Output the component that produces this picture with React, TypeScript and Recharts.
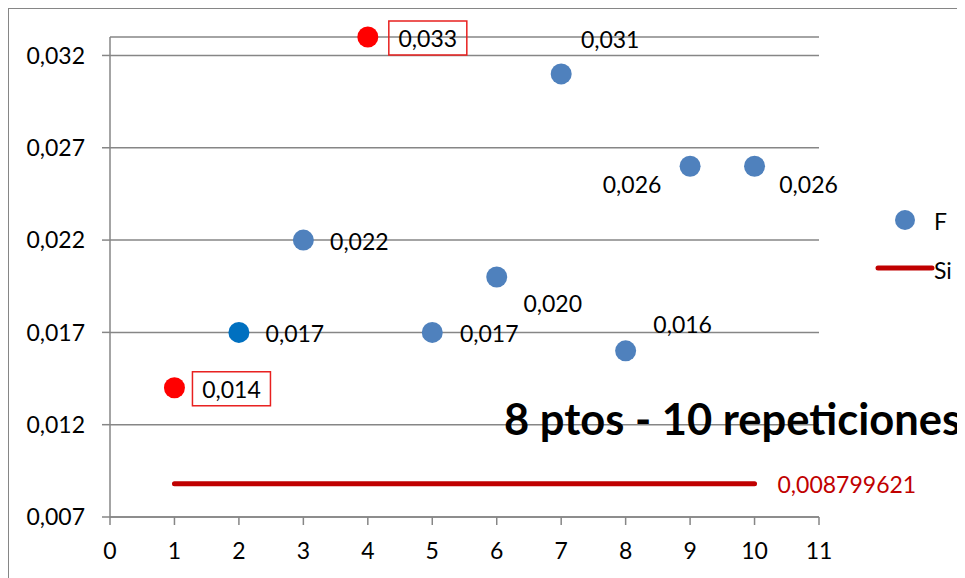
import React from "react";
import { ScatterChart, Scatter, XAxis, YAxis, CartesianGrid } from "recharts";

// repetitions (x) and measured F values
const xs = [1, 2, 3, 4, 5, 6, 7, 8, 9, 10];
const fValues = [0.014, 0.017, 0.022, 0.033, 0.017, 0.02, 0.031, 0.016, 0.026, 0.026];
const siValue = 0.008799621;
const siRange = [1, 10];
const yTicks = [0.007, 0.012, 0.017, 0.022, 0.027, 0.032];
const xTicks = [0, 1, 2, 3, 4, 5, 6, 7, 8, 9, 10, 11];
const title = "8 ptos - 10 repeticiones";

// styling per point (not data)
const BLUE = "#4f81bd";
const pointColors = [
  "#ff0000", "#0070c0", BLUE, "#ff0000", BLUE, BLUE, BLUE, BLUE, BLUE, BLUE,
];
const boxed = [true, false, false, true, false, false, false, false, false, false];
const labelOffsets: [number, number][] = [
  [57, 1], [56, 1], [56, 1], [60, 1], [57, 1],
  [56, 26], [49, -35], [57, -27], [-58, 18], [54, 18],
];

const FONT = "Lato, 'Open Sans', sans-serif";
const GRID = "#868686";
const SI_RED = "#c00000";

const fmt = (v: number, d = 3) => v.toFixed(d).replace(".", ",");

const fData = xs.map((x, i) => ({ x, y: fValues[i] }));
const siData = siRange.map((x) => ({ x, y: siValue }));

function FPoint(props: any) {
  const { cx, cy, payload } = props;
  const i = xs.indexOf(payload.x);
  const [dx, dy] = labelOffsets[i];
  const lx = cx + dx;
  const ly = cy + dy;
  return (
    <g>
      <circle cx={cx} cy={cy} r={10.5} fill={pointColors[i]} />
      {boxed[i] && (
        <rect x={lx - 39} y={ly - 17} width={78} height={34} fill="none" stroke="#e8201f" strokeWidth={1.5} />
      )}
      <text x={lx} y={ly} textAnchor="middle" dominantBaseline="central" fontSize={23} fontFamily={FONT} fill="#000">
        {fmt(payload.y)}
      </text>
    </g>
  );
}

function SiPoint(props: any) {
  const { cx, cy, payload } = props;
  if (payload.x !== siRange[1]) return <g />;
  return (
    <text x={cx + 23} y={cy} dominantBaseline="central" fontSize={23} fontFamily={FONT} fill={SI_RED}>
      {String(payload.y).replace(".", ",")}
    </text>
  );
}

export default function App() {
  return (
    <div style={{ position: "relative", width: 957, height: 570 }}>
      <ScatterChart
        width={957}
        height={570}
        margin={{ top: 29, right: 146, bottom: 21, left: 12 }}
        style={{ fontFamily: FONT }}
      >
        <CartesianGrid horizontal vertical={false} stroke={GRID} strokeWidth={1.5} />
        <XAxis
          type="number"
          dataKey="x"
          domain={[0, 11]}
          ticks={xTicks}
          interval={0}
          height={40}
          tickSize={8}
          tickMargin={18}
          axisLine={{ stroke: GRID, strokeWidth: 1.5 }}
          tickLine={{ stroke: GRID, strokeWidth: 1.5 }}
          tick={{ fontSize: 23, fill: "#000", fontFamily: FONT }}
        />
        <YAxis
          type="number"
          dataKey="y"
          domain={[0.007, 0.033]}
          ticks={yTicks}
          interval={0}
          width={90}
          tickSize={8}
          tickMargin={17}
          tickFormatter={(v: number) => fmt(v)}
          axisLine={{ stroke: GRID, strokeWidth: 1.5 }}
          tickLine={{ stroke: GRID, strokeWidth: 1.5 }}
          tick={{ fontSize: 23, fill: "#000", fontFamily: FONT }}
        />
        <Scatter
          name="Si"
          data={siData}
          line={{ stroke: SI_RED, strokeWidth: 5, strokeLinecap: "round" }}
          lineType="joint"
          shape={SiPoint}
          isAnimationActive={false}
        />
        <Scatter name="F" data={fData} shape={FPoint} isAnimationActive={false} />
      </ScatterChart>
      <svg
        width={957}
        height={570}
        style={{ position: "absolute", left: 0, top: 0, pointerEvents: "none" }}
      >
        <line x1={0} y1={0.5} x2={957} y2={0.5} stroke={GRID} />
        <line x1={0.5} y1={0} x2={0.5} y2={570} stroke={GRID} />
        <text x={496} y={427} fontSize={43.5} fontWeight="bold" fontFamily={FONT} fill="#000">
          {title}
        </text>
        {/* legend */}
        <circle cx={897} cy={212} r={10} fill={BLUE} />
        <text x={926} y={213} dominantBaseline="central" fontSize={23} fontFamily={FONT} fill="#000">F</text>
        <line x1={870} y1={260} x2={924} y2={260} stroke={SI_RED} strokeWidth={5} strokeLinecap="round" />
        <text x={926} y={262} dominantBaseline="central" fontSize={23} fontFamily={FONT} fill="#000">Si</text>
      </svg>
    </div>
  );
}
